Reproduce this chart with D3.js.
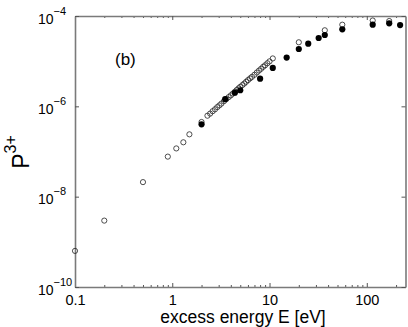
<!DOCTYPE html>
<html><head><meta charset="utf-8">
<script src="https://cdn.jsdelivr.net/npm/d3@7"></script>
<style>
body{margin:0;background:#fff}
svg{display:block}
text{font-family:"Liberation Sans",Arial,Helvetica,sans-serif;fill:#000}
</style>
</head><body>
<svg id="chart" width="408" height="327"></svg>
<script>
// ---- data ----
const openE = [0.1, 0.2, 0.5, 0.9, 1.1, 1.3, 1.5, 2.0,
  2.3, 2.45, 2.6, 2.75, 2.9, 3.05, 3.2, 3.4, 3.6, 3.8, 4.0, 4.2, 4.4, 4.6, 4.8, 5.0,
  5.25, 5.5, 5.75, 6.0, 6.3, 6.6, 7.0, 7.4, 7.8, 8.2, 8.6, 9.0, 9.5, 10.0, 10.8,
  20, 37, 56, 115, 170];
const openP = [6.3e-10, 2.95e-9, 2.1e-8, 7.7e-8, 1.17e-7, 1.6e-7, 2.4e-7, 4.5e-7,
  6.2e-7, 6.9e-7, 7.8e-7, 8.6e-7, 9.6e-7, 1.05e-6, 1.15e-6, 1.3e-6, 1.45e-6, 1.6e-6, 1.75e-6, 1.92e-6, 2.1e-6, 2.3e-6, 2.5e-6, 2.7e-6,
  2.95e-6, 3.2e-6, 3.5e-6, 3.8e-6, 4.15e-6, 4.5e-6, 5.0e-6, 5.6e-6, 6.2e-6, 6.8e-6, 7.5e-6, 8.1e-6, 9.0e-6, 9.9e-6, 1.15e-5,
  2.62e-5, 4.83e-5, 6.42e-5, 7.95e-5, 7.75e-5];
const filledE = [2.0, 3.5, 4.4, 5.0, 8.0, 10.8, 15, 20, 25, 32, 37, 56, 115, 170, 220];
const filledP = [4.0e-7, 1.44e-6, 2.0e-6, 2.27e-6, 4.1e-6, 7.1e-6, 1.2e-5, 1.86e-5, 2.44e-5, 3.26e-5, 3.8e-5, 5.08e-5, 6.42e-5, 6.9e-5, 6.3e-5];

const xMajorTicks = [0.1, 1, 10, 100];
const xTickLabels = ["0.1", "1", "10", "100"];
const xMinorTicks = [0.2,0.3,0.4,0.5,0.6,0.7,0.8,0.9,2,3,4,5,6,7,8,9,20,30,40,50,60,70,80,90,200];
const yTicks = [1e-4, 1e-6, 1e-8, 1e-10];
const yTickExps = ["\u22124", "\u22126", "\u22128", "\u221210"];
const xTitle = "excess energy E [eV]";
const panelLabel = "(b)";

// ---- layout ----
const L = 75, R = 405.5, T = 16, B = 287;
const svg = d3.select("#chart");
const x = d3.scaleLog().domain([0.1, 250]).range([L, R]);
const y = d3.scaleLog().domain([1e-10, 1e-4]).range([B, T]);
const axisColor = "#7a7a7a";

function styleAxis(g) {
  g.select(".domain").attr("stroke", axisColor).attr("stroke-width", 1.6);
  g.selectAll(".tick line").attr("stroke", "#555").attr("stroke-width", 1);
  g.selectAll("text").attr("fill", "#000");
}

// bottom axis
const gxMinor = svg.append("g").attr("transform", `translate(0,${B})`)
  .call(d3.axisBottom(x).tickValues(xMinorTicks).tickSizeInner(-2).tickSizeOuter(0).tickFormat(""));
gxMinor.select(".domain").remove();
gxMinor.selectAll(".tick line").attr("stroke", "#555");
const gx = svg.append("g").attr("transform", `translate(0,${B})`)
  .call(d3.axisBottom(x).tickValues(xMajorTicks).tickSizeInner(-4).tickSizeOuter(0)
    .tickFormat((d, i) => xTickLabels[i]));
styleAxis(gx);
gx.selectAll("text").attr("y", 18).attr("dy", null).attr("font-size", "14.5px");

// top axis
const gtMinor = svg.append("g").attr("transform", `translate(0,${T})`)
  .call(d3.axisTop(x).tickValues(xMinorTicks).tickSizeInner(-2).tickSizeOuter(0).tickFormat(""));
gtMinor.select(".domain").remove();
gtMinor.selectAll(".tick line").attr("stroke", "#555");
const gt = svg.append("g").attr("transform", `translate(0,${T})`)
  .call(d3.axisTop(x).tickValues(xMajorTicks).tickSizeInner(-4).tickSizeOuter(0).tickFormat(""));
styleAxis(gt);

// left axis
const gy = svg.append("g").attr("transform", `translate(${L},0)`)
  .call(d3.axisLeft(y).tickValues(yTicks).tickSizeInner(-4).tickSizeOuter(0).tickFormat(""));
styleAxis(gy);
gy.selectAll(".tick").each(function(d, i) {
  const t = d3.select(this).select("text");
  t.attr("x", -37).attr("dy", null).attr("y", 7).attr("text-anchor", "start").attr("font-size", "14px");
  t.append("tspan").text("10");
  t.append("tspan").attr("dy", -9).attr("font-size", "11px").text(yTickExps[i]);
});

// right axis
const gr = svg.append("g").attr("transform", `translate(${R},0)`)
  .call(d3.axisRight(y).tickValues(yTicks).tickSizeInner(-4).tickSizeOuter(0).tickFormat(""));
styleAxis(gr);

// open circles
svg.append("g").selectAll("circle").data(openE.map((e, i) => [e, openP[i]])).join("circle")
  .attr("cx", d => x(d[0])).attr("cy", d => y(d[1])).attr("r", 2.6)
  .attr("fill", "none").attr("stroke", "#222").attr("stroke-width", 0.8);

// filled circles
svg.append("g").selectAll("circle").data(filledE.map((e, i) => [e, filledP[i]])).join("circle")
  .attr("cx", d => x(d[0])).attr("cy", d => y(d[1])).attr("r", 3.1)
  .attr("fill", "#000");

// titles
svg.append("text").attr("x", 243).attr("y", 323).attr("text-anchor", "middle")
  .attr("font-size", "17.5px").text(xTitle);
const yt = svg.append("text").attr("transform", "translate(29,152) rotate(-90)")
  .attr("text-anchor", "middle");
yt.append("tspan").attr("font-size", "23px").text("P");
yt.append("tspan").attr("font-size", "16px").attr("dy", -13).text("3+");

svg.append("text").attr("x", 115).attr("y", 65).attr("font-size", "17px").text(panelLabel);
</script>
</body></html>
